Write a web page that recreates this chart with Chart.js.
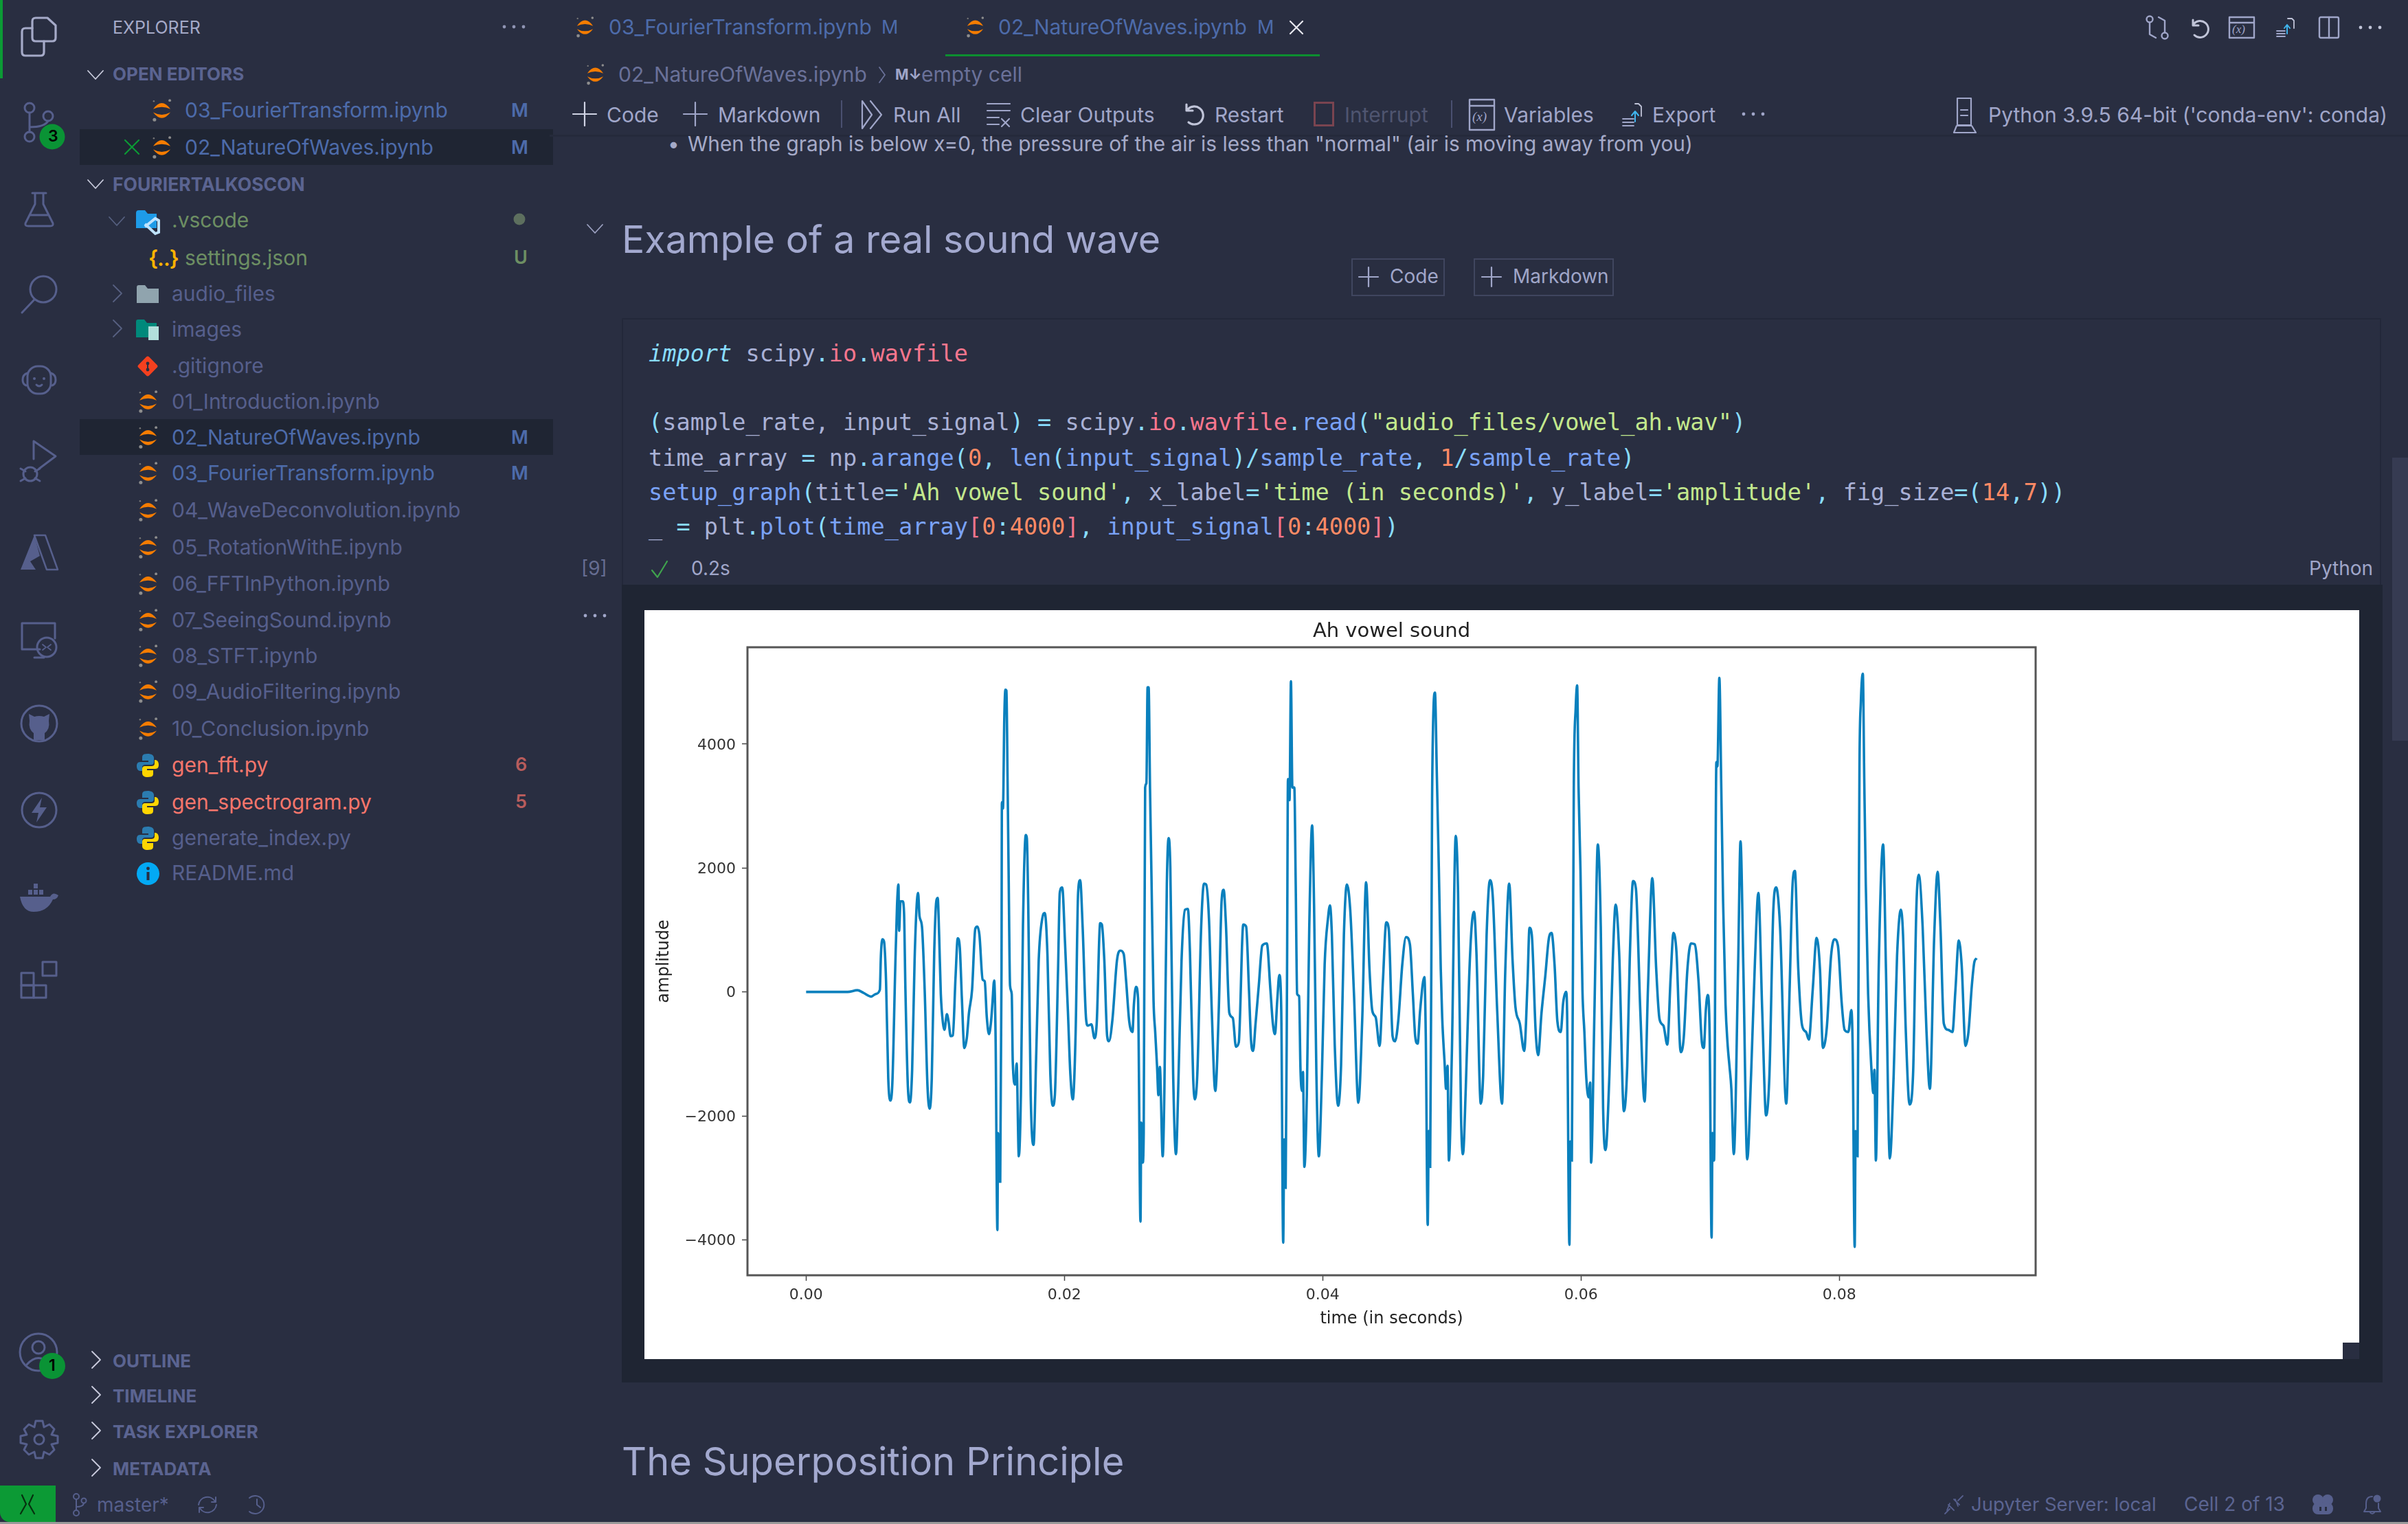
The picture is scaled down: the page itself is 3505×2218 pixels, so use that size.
<!DOCTYPE html>
<html>
<head>
<meta charset="utf-8">
<title>02_NatureOfWaves.ipynb</title>
<script src="https://cdn.jsdelivr.net/npm/chart.js@4/dist/chart.umd.min.js"></script>
<style>
html,body{margin:0;padding:0;background:#292e41;overflow:hidden;}
#app{position:relative;width:3505px;height:2218px;overflow:hidden;font-family:Inter,sans-serif;background:#292e41;}
#app div{position:absolute;white-space:pre;}
#app svg{position:absolute;overflow:visible;}
canvas{position:absolute;left:938px;top:888px;}
</style>
</head>
<body>
<div id="app"><div id="under"></div><canvas id="wave" width="2496" height="1090"></canvas></div>
<script>
// chart values
var xTickValues = [0, 0.02, 0.04, 0.06, 0.08];
var yTickValues = [-4000, -2000, 0, 2000, 4000];

var onsetTime = [0,0.00321,0.00397,0.00443,0.00505,0.00538,0.00571,0.00579,0.0059,0.00603,0.00619,0.00636,0.00652,0.00668,0.0069,0.00704,0.00715,0.0072,0.00731,0.00747,0.00758,0.00769];
var onsetAmp = [0,0,27,-14,-75,-34,34,578,850,816,170,-1394,-1754,-1462,374,1394,1734,986,1462,1462,1292,34];

var waveTimeA = [0.00788,0.00804,0.00821,0.0084,0.00856,0.00867,0.00878,0.00897,0.00918,0.0094,0.00956,0.00973,0.00992,0.01008,0.01019,0.0103,0.01043,0.0106,0.01071,0.0109,0.01103,0.01119,0.01136,0.01157,0.01174,0.0119,0.01206,0.01225,0.01244,0.01261,0.01285,0.0131,0.01326,0.01342,0.01367,0.01383,0.01399,0.01416,0.01432,0.01443,0.01456,0.01467,0.01481,0.01486,0.01494,0.01503,0.01513,0.01516,0.01524,0.01535,0.01543,0.01551,0.0156,0.01568,0.01579,0.01592,0.016,0.01619,0.0163,0.01647,0.01663,0.01679,0.01701,0.01709,0.0172,0.01739,0.01761,0.01782,0.01801,0.01829,0.01848,0.01869,0.01891,0.0191,0.01926,0.01951,0.01964,0.01983,0.02005,0.02027,0.02046,0.02065,0.02087,0.02106,0.02122,0.02141,0.02168,0.02182,0.02209,0.02233,0.0225,0.02277,0.0229,0.02309,0.02331,0.02345,0.02372,0.02407,0.02434,0.02459,0.02478,0.02502,0.02527,0.02538,0.02554,0.0257];
var waveAmpA = [-1530,-1782,-1258,510,1394,1598,1224,1054,34,-1530,-1884,-1394,646,1462,1516,918,-34,-510,-612,-360,-476,-714,-700,238,864,714,-102,-904,-748,-340,34,1020,1054,918,197,170,-408,-680,-476,-170,184,-714,-3842,-2278,-3060,-3060,374,3060,2958,4454,4876,4862,3400,1938,102,-34,-1122,-1496,-1156,-2652,-1666,1054,2530,2482,1394,-1666,-2468,-986,510,1190,1272,578,-1326,-1836,-1666,374,1598,1686,782,-306,-1326,-1734,-646,1598,1802,1054,-442,-544,-524,-748,-510,1108,1088,510,-714,-796,-442,510,666,612,170,-476,-646,-204,82,-102];

var waveTimeB = [0.02589,0.02595,0.02606,0.02614,0.02625,0.02635,0.02644,0.02652,0.02663,0.02674,0.0269,0.02703,0.02717,0.02728,0.02739,0.02761,0.02774,0.02793,0.02807,0.0282,0.02842,0.02864,0.0288,0.02907,0.02934,0.02956,0.02972,0.02997,0.0301,0.03029,0.03059,0.03081,0.03097,0.03119,0.03141,0.03168,0.03195,0.03217,0.03233,0.0325,0.03277,0.03304,0.03328,0.0335,0.03385,0.03407,0.03429,0.03445,0.03461,0.0348,0.03505,0.03532,0.03567,0.03595,0.03614,0.0363,0.03649];
var waveAmpB = [-3706,-2108,-2754,-2278,3298,3366,4916,4916,3264,1870,-136,-646,-1190,-1666,-1210,-2652,-1598,1734,2482,2006,-1326,-2618,-1666,510,1326,1340,646,-1394,-1734,-1326,1054,1748,1734,1190,-306,-1598,-306,1462,1646,1122,-340,-422,-884,-816,1088,1054,34,-782,-952,-510,102,748,782,34,-510,-680,-102];

var waveTimeC = [0.03664,0.03679,0.03694,0.03702,0.03713,0.03724,0.03731,0.03743,0.03754,0.03765,0.0378,0.03791,0.03802,0.03817,0.03828,0.0384,0.03847,0.03858,0.03877,0.03896,0.03918,0.03933,0.03951,0.0397,0.03993,0.04015,0.04041,0.04056,0.04071,0.04093,0.04119,0.04142,0.04164,0.04187,0.04213,0.04242,0.04276,0.04306,0.04336,0.04362,0.04384,0.0441,0.0444,0.04466,0.04492,0.04511,0.04541,0.0456,0.04586,0.04616,0.04645,0.04675,0.04698,0.04716,0.04735,0.04754,0.04787,0.04798];
var waveAmpC = [272,-306,-4046,-2380,-3162,374,3434,3094,5012,3298,3298,1734,-34,-68,-1258,-1598,-1292,-2822,-1666,1054,2686,1394,-1326,-2652,-1394,442,1190,1394,918,-850,-1836,-1190,918,1734,1326,-34,-1788,-442,1768,374,-306,-408,-870,170,1122,1020,-714,-796,-442,442,884,768,-34,-714,-836,-306,238,-714];

var waveTimeD = [0.04813,0.04821,0.04832,0.04847,0.04858,0.04869,0.04884,0.04899,0.04914,0.04925,0.04944,0.04955,0.04966,0.04977,0.05,0.0503,0.05048,0.05071,0.05086,0.05108,0.05134,0.05153,0.05172,0.0519,0.05224,0.05242,0.05269,0.05295,0.05317,0.05351,0.05388,0.05414,0.05444,0.0547,0.05492,0.05526,0.0556,0.05586,0.05601,0.05619,0.05649,0.05668,0.05694,0.05724,0.0575,0.05772,0.05795,0.05817,0.05843,0.05862,0.05884,0.05892];
var waveAmpD = [-3760,-2244,-2822,3128,4590,4828,3468,2006,374,-408,-1156,-1564,-1190,-2720,-986,2516,1598,-2006,-2618,-1530,238,1054,1292,646,-1802,-1360,918,1802,1530,-306,-1802,374,1748,510,-238,-510,-952,170,1034,918,-646,-1020,-340,272,850,952,442,-476,-646,-170,0,-306];

var waveTimeE = [0.0591,0.05918,0.05929,0.05944,0.05959,0.0597,0.05981,0.05996,0.06011,0.06026,0.06041,0.06059,0.06071,0.06078,0.06104,0.0613,0.06153,0.06171,0.0619,0.0622,0.06246,0.06268,0.06295,0.06332,0.06358,0.06377,0.06403,0.06425,0.06459,0.06492,0.06518,0.06552,0.06582,0.06608,0.06638,0.06668,0.06694,0.06716,0.06739,0.06772,0.06795,0.06824,0.06851,0.0688,0.0691,0.06936,0.06951,0.06966,0.06981,0.06996];
var waveAmpE = [-4080,-2414,-2720,3298,4590,4944,3298,1938,34,-646,-1394,-1700,-1462,-2754,-306,2380,1054,-1870,-2550,-1326,510,1408,646,-1924,-1190,510,1788,1666,-306,-1768,34,1836,374,-442,-544,-850,238,952,646,-972,-748,374,782,768,170,-816,-904,-306,-48,-714];

var waveTimeF = [0.07011,0.07018,0.0703,0.07048,0.07056,0.07071,0.07086,0.071,0.07119,0.07134,0.07149,0.07164,0.07183,0.07216,0.07235,0.07257,0.07287,0.07317,0.07347,0.07373,0.07403,0.07433,0.07459,0.07489,0.07511,0.07541,0.07589,0.07615,0.07638,0.07656,0.07682,0.07712,0.07742,0.07764,0.07794,0.07824,0.0785,0.07873,0.07903,0.07936,0.07962,0.07989,0.08018,0.08041,0.0807,0.08093,0.08104];
var waveAmpF = [-3964,-2278,-2720,3706,3638,5066,3298,1462,-204,-816,-1190,-1564,-2618,374,2428,374,-2700,-1326,510,1598,-306,-1992,-1326,1326,1686,1054,-1802,34,1734,1952,374,-544,-646,-768,34,870,374,-904,-578,578,850,748,-170,-612,-646,-292,-986];

var waveTimeG = [0.08119,0.08126,0.08141,0.08156,0.08167,0.08182,0.08193,0.08205,0.08223,0.08249,0.08264,0.08272,0.08283,0.08305,0.08339,0.08361,0.08391,0.08421,0.08447,0.08477,0.08492,0.08515,0.08544,0.08571,0.08597,0.08615,0.08645,0.08675,0.08701,0.08735,0.08761,0.08783,0.08809,0.08843,0.08876,0.08899,0.08925,0.08947,0.08977,0.09,0.09026,0.09045,0.09063];
var waveAmpG = [-4114,-2244,-2652,3638,4692,5134,3434,1734,-34,-1258,-1632,-1258,-2720,374,2380,374,-2686,-1326,578,1326,986,-646,-1816,-1326,1394,1890,1054,-646,-1564,918,1938,1054,-510,-612,-646,34,830,442,-870,-646,102,476,544];

var timeValues = onsetTime.concat(waveTimeA, waveTimeB, waveTimeC, waveTimeD, waveTimeE, waveTimeF, waveTimeG);
var ampValues = onsetAmp.concat(waveAmpA, waveAmpB, waveAmpC, waveAmpD, waveAmpE, waveAmpF, waveAmpG);

var points = [];
for(let i=0; i<timeValues.length; i++){
    points.push({x: timeValues[i], y: ampValues[i]});
}

// draws the matplotlib style box round the axes
var frameBox = {
    id: "frameBox",
    afterDraw: function(chart){
        let a = chart.chartArea;
        let c = chart.ctx;
        c.save();
        c.strokeStyle = "#555";
        c.lineWidth = 3;
        c.strokeRect(a.left, a.top, a.right-a.left, a.bottom-a.top);
        c.restore();
    }
};

new Chart(document.getElementById("wave"), {
    type: "line",
    data: {
        datasets: [{
            data: points,
            borderColor: "#0a80bd",
            borderWidth: 3.6,
            pointRadius: 0,
            cubicInterpolationMode: "monotone",
            fill: false
        }]
    },
    options: {
        responsive: false,
        animation: false,
        devicePixelRatio: 1,
        layout: { padding: { top: 0, right: 471, bottom: 0, left: 0 } },
        plugins: {
            legend: { display: false },
            tooltip: { enabled: false },
            title: {
                display: true,
                fullSize: false,
                text: "Ah vowel sound",
                color: "#222",
                font: { family: "DejaVu Sans", size: 29, weight: "normal", lineHeight: 1.2 },
                padding: { top: 14, bottom: 5.2 }
            }
        },
        scales: {
            x: {
                type: "linear",
                min: -0.00454,
                max: 0.0952,
                afterFit: function(s){ s.height = 122; },
                afterBuildTicks: function(s){ s.ticks = xTickValues.map(function(v){ return {value: v}; }); },
                grid: { drawOnChartArea: false, tickLength: 8, tickColor: "#444", tickWidth: 1.5 },
                border: { display: false },
                ticks: {
                    color: "#333",
                    font: { family: "DejaVu Sans", size: 22 },
                    padding: 8,
                    maxRotation: 0,
                    autoSkip: false,
                    callback: function(v){ return v.toFixed(2); }
                },
                title: {
                    display: true,
                    text: "time (in seconds)",
                    color: "#222",
                    font: { family: "DejaVu Sans", size: 24 },
                    padding: { top: 0, bottom: 44 }
                }
            },
            y: {
                type: "linear",
                min: -4572,
                max: 5561,
                afterFit: function(s){ s.width = 150; },
                afterBuildTicks: function(s){ s.ticks = yTickValues.map(function(v){ return {value: v}; }); },
                grid: { drawOnChartArea: false, tickLength: 8, tickColor: "#444", tickWidth: 1.5 },
                border: { display: false },
                ticks: {
                    color: "#333",
                    font: { family: "DejaVu Sans", size: 22 },
                    padding: 9,
                    labelOffset: 2,
                    autoSkip: false,
                    callback: function(v){ return String(v).replace("-", "\u2212"); }
                },
                title: {
                    display: true,
                    text: "amplitude",
                    color: "#222",
                    font: { family: "DejaVu Sans", size: 24 },
                    padding: { top: 14, bottom: 0 }
                }
            }
        }
    },
    plugins: [frameBox]
});

// ---------- the editor around the chart ----------
var app = document.getElementById("app");
var under = document.getElementById("under");
var GREY = "#565f8c", BLUE = "#4d6baa", GREEN = "#6d8f63", RED = "#f7766c", SOFT = "#a0a6c9", MONO = "'DejaVu Sans Mono',monospace";
var UI = 30;

function box(x, y, w, h, css){
    let d = document.createElement("div");
    d.style.cssText = "left:"+x+"px;top:"+y+"px;width:"+w+"px;height:"+h+"px;"+(css||"");
    under.appendChild(d);
    return d;
}
function put(x, y, s, color, size, css){
    let d = document.createElement("div");
    d.style.cssText = "left:"+x+"px;top:"+(y-1.5)+"px;transform:translateY(-50%);color:"+color+";font-size:"+size+"px;"+(css||"");
    d.textContent = s;
    app.appendChild(d);
    return d;
}
function icon(cx, cy, w, h, inner, vb){
    let s = document.createElementNS("http://www.w3.org/2000/svg", "svg");
    s.setAttribute("width", w);
    s.setAttribute("height", h);
    s.setAttribute("viewBox", vb || ("0 0 "+w+" "+h));
    s.style.left = (cx-w/2)+"px";
    s.style.top = (cy-h/2)+"px";
    s.innerHTML = inner;
    app.appendChild(s);
}
function line(c, w){ return 'fill="none" stroke="'+c+'" stroke-width="'+(w||2.5)+'" stroke-linecap="round" stroke-linejoin="round"'; }

function jupyter(cx, cy, w){
    icon(cx, cy, w||29, (w||29)*1.15,
        '<path d="M2 15 Q15 -3 28 15 Q15 9 2 15Z" fill="#f57c00"/><path d="M2 20 Q15 37 28 20 Q15 27 2 20Z" fill="#f57c00"/>'+
        '<circle cx="27" cy="2" r="2" fill="#8d8d8d"/><circle cx="4" cy="31" r="2.6" fill="#8d8d8d"/><circle cx="3" cy="3" r="1.3" fill="#777"/>', "0 0 30 34");
}
function pythonIcon(cx, cy){
    icon(cx, cy, 32, 36,
        '<path d="M16 1 C8 1 8 4 8 7 V11 H17 V13 H5 C1 13 0 16 0 19 C0 23 2 26 5 26 H8 V21 C8 18 10 17 13 17 H21 C24 17 25 15 25 13 V7 C25 3 21 1 16 1Z" fill="#2b7cb0"/>'+
        '<path d="M16 35 C24 35 24 32 24 29 V25 H15 V23 H27 C31 23 32 20 32 17 C32 13 30 10 27 10 H26 V15 C26 18 24 19 21 19 H12 C9 19 8 21 8 23 V29 C8 33 11 35 16 35Z" fill="#ffd600"/>', "0 0 32 36");
}
function chevronDown(cx, cy, c){ icon(cx, cy, 24, 14, '<path d="M1 1 L12 13 L23 1" '+line(c||"#c8cbdc",1.8)+'/>'); }
function chevronRight(cx, cy, c){ icon(cx, cy, 14, 26, '<path d="M1 1 L13 13 L1 25" '+line(c||"#8b90ad",1.8)+'/>'); }
function plus(cx, cy, c, s){ s=s||34; icon(cx, cy, s, s, '<path d="M'+(s/2)+' 0 V'+s+' M0 '+(s/2)+' H'+s+'" '+line(c||SOFT,2.2)+'/>'); }
function dots(cx, cy, c){ icon(cx, cy, 34, 6, '<circle cx="3" cy="3" r="2.4" fill="'+c+'"/><circle cx="17" cy="3" r="2.4" fill="'+c+'"/><circle cx="31" cy="3" r="2.4" fill="'+c+'"/>'); }

// panels and backgrounds, kept under the canvas
box(905, 851, 2563, 1161, "background:#1f2533;");
box(938, 888, 2496, 1090, "background:#fff;");
box(905, 463, 2561, 388, "box-sizing:border-box;border:2px solid #23283a;border-bottom:none;");
box(0, 0, 4, 114, "background:#0c9a35;");
box(116, 188, 689, 52, "background:#1f2533;");
box(116, 610, 689, 52, "background:#1f2533;");
box(1376, 79, 545, 3, "background:#0c8f30;");
box(800, 196, 2705, 3, "background:#252a3b;");
box(3482, 666, 23, 412, "background:#363b52;");
box(0, 2162, 81, 53, "background:#0c9a35;border-bottom-left-radius:14px;");
box(0, 2215, 3505, 3, "background:#9a9a9a;");

// the little notch in the output image, sits over the canvas corner
var notch = document.createElement("div");
notch.style.cssText = "left:3410px;top:1954px;width:24px;height:24px;background:#292e41;";
app.appendChild(notch);

// sidebar text
put(164, 41, "EXPLORER", "#a5aac8", 25);
dots(748, 39, "#8f94b3");
chevronDown(139, 109);
put(164, 108, "OPEN EDITORS", "#5b6491", 26, "font-weight:700;");
chevronDown(139, 268);
put(164, 269, "FOURIERTALKOSCON", "#5b6491", 26.5, "font-weight:700;");

var openNames = ["03_FourierTransform.ipynb", "02_NatureOfWaves.ipynb"];
var openRows = [161, 215];
for(let i=0; i<openNames.length; i++){
    jupyter(235, openRows[i]);
    put(269, openRows[i], openNames[i], BLUE, UI);
    put(744, openRows[i], "M", BLUE, 27, "font-weight:600;");
}
icon(192, 214, 22, 22, '<path d="M1 1 L21 21 M21 1 L1 21" '+line("#0c9a35",2.2)+'/>');

var treeNames = ["01_Introduction.ipynb","02_NatureOfWaves.ipynb","03_FourierTransform.ipynb","04_WaveDeconvolution.ipynb","05_RotationWithE.ipynb","06_FFTInPython.ipynb","07_SeeingSound.ipynb","08_STFT.ipynb","09_AudioFiltering.ipynb","10_Conclusion.ipynb"];
var treeRows = [585,637,689,743,797,850,903,955,1007,1061];
var treeColors = [GREY,BLUE,BLUE,GREY,GREY,GREY,GREY,GREY,GREY,GREY];
for(let i=0; i<treeNames.length; i++){
    jupyter(215, treeRows[i]);
    put(250, treeRows[i], treeNames[i], treeColors[i], UI);
}
put(744, 637, "M", BLUE, 27, "font-weight:600;");
put(744, 689, "M", BLUE, 27, "font-weight:600;");

chevronDown(170, 322, "#566080");
icon(215, 322, 34, 36, '<path d="M0 6 Q0 2 4 2 H13 L17 7 H30 V28 H0Z" fill="#1e9be8"/><path d="M13 26 L28 14 L33 17 V34 L28 36 L13 22" fill="none" stroke="#bfe3ff" stroke-width="4"/>');
put(250, 321, ".vscode", GREEN, UI);
icon(756, 319, 18, 18, '<circle cx="9" cy="9" r="8.5" fill="#5d6f5e"/>');
put(216, 376, "{..}", "#ffb300", 31, "font-weight:600;letter-spacing:-1px;");
put(269, 376, "settings.json", GREEN, UI);
put(748, 375, "U", GREEN, 27, "font-weight:600;");
chevronRight(171, 427, "#566080");
icon(215, 428, 32, 26, '<path d="M0 3 Q0 0 3 0 H12 L16 5 H32 V26 H0Z" fill="#90a4ae"/>');
put(250, 428, "audio_files", GREY, UI);
chevronRight(171, 478, "#566080");
icon(215, 480, 34, 30, '<path d="M0 3 Q0 0 3 0 H12 L16 5 H30 V26 H0Z" fill="#00897b"/><rect x="18" y="10" width="15" height="20" fill="#b2dfdb"/>');
put(250, 480, "images", GREY, UI);
icon(215, 533, 32, 32, '<rect x="5" y="5" width="22" height="22" rx="3" transform="rotate(45 16 16)" fill="#f4401f"/><circle cx="16" cy="12" r="2.4" fill="#292e41"/><circle cx="16" cy="21" r="2.4" fill="#292e41"/><path d="M16 12 V21" '+line("#292e41",2)+'/>');
put(250, 533, ".gitignore", GREY, UI);

var pyNames = ["gen_fft.py","gen_spectrogram.py","generate_index.py"];
var pyRows = [1114,1168,1220];
var pyColors = [RED,RED,GREY];
for(let i=0; i<pyNames.length; i++){
    pythonIcon(215, pyRows[i]);
    put(250, pyRows[i], pyNames[i], pyColors[i], UI);
}
put(750, 1113, "6", "#b85c5c", 27, "font-weight:600;");
put(750, 1167, "5", "#b85c5c", 27, "font-weight:600;");
icon(215, 1271, 33, 33, '<circle cx="16.5" cy="16.5" r="16.5" fill="#03a9f4"/><rect x="14.5" y="14" width="4" height="12" fill="#292e41"/><circle cx="16.5" cy="9" r="2.4" fill="#292e41"/>');
put(250, 1271, "README.md", GREY, UI);

var footNames = ["OUTLINE","TIMELINE","TASK EXPLORER","METADATA"];
var footRows = [1981,2032,2084,2138];
for(let i=0; i<footNames.length; i++){
    chevronRight(140, footRows[i]-2, "#c8cbdc");
    put(164, footRows[i], footNames[i], "#5b6491", 26, "font-weight:700;");
}

// activity bar
var A = line(GREY, 3);
icon(57, 54, 52, 58, '<path d="M16 6 Q16 1 21 1 H38 L50 12 V30 Q50 35 45 35 H21 Q16 35 16 30Z" '+line("#a5aac8",3.2)+'/><path d="M16 16 H6 Q1 16 1 21 V51 Q1 56 6 56 H28 Q33 56 33 51 V35" '+line("#a5aac8",3.2)+'/>');
icon(57, 178, 44, 58, '<circle cx="8" cy="8" r="7" '+A+'/><circle cx="8" cy="50" r="7" '+A+'/><circle cx="35" cy="20" r="7" '+A+'/><path d="M8 15 V43 M8 36 Q30 36 35 27" '+A+'/>');
icon(76, 199, 38, 38, '<circle cx="19" cy="19" r="18.5" fill="#0a9335"/>');
put(70, 199, "3", "#000", 23, "font-weight:600;");
icon(57, 305, 44, 52, '<path d="M12 2 H32 M16 2 V18 L2 46 Q1 50 6 50 H38 Q43 50 42 46 L28 18 V2 M8 34 H36" '+A+'/>');
icon(57, 428, 54, 56, '<circle cx="33" cy="21" r="19" '+A+'/><path d="M20 36 L2 55" '+A+'/>');
icon(57, 553, 50, 44, '<rect x="8" y="2" width="34" height="40" rx="15" '+A+'/><path d="M8 12 Q1 14 1 22 Q1 28 6 30 M42 12 Q49 14 49 22 Q49 28 44 30" '+A+'/><circle cx="18" cy="20" r="2" fill="'+GREY+'"/><circle cx="32" cy="20" r="2" fill="'+GREY+'"/><path d="M21 29 Q25 33 29 29" '+A+'/>');
icon(57, 672, 56, 64, '<path d="M20 2 L52 24 L28 42 M20 2 V28" '+A+'/><circle cx="15" cy="50" r="10" '+A+'/><path d="M1 42 L8 46 M1 60 L8 56 M29 42 L22 46 M29 60 L22 56" '+A+'/>');
icon(57, 804, 54, 50, '<path d="M20 0 H36 L54 50 H38Z" '+line(GREY,2.5)+'/><path d="M20 0 L0 50 H22 L14 38 L28 30Z" fill="'+GREY+'"/>');
icon(57, 931, 54, 52, '<path d="M50 24 V2 H2 V40 H28 M20 52 H34" '+A+'/><circle cx="38" cy="37" r="14" '+A+'/><path d="M32 33 L37 37 L32 41 M44 33 L39 37 L44 41" '+line(GREY,1.8)+'/>');
icon(57, 1053, 56, 56, '<circle cx="28" cy="28" r="26" '+A+'/><path d="M20 52 V42 Q12 36 14 24 L13 14 L21 18 Q28 16 35 18 L43 14 L42 24 Q44 36 36 42 V52Z" fill="'+GREY+'"/>');
icon(57, 1179, 54, 56, '<circle cx="27" cy="28" r="25" '+A+'/><path d="M31 10 L16 32 H26 L23 46 L38 24 H28Z" fill="'+GREY+'"/>');
icon(57, 1306, 56, 42, '<path d="M0 20 H44 Q48 12 56 18 Q54 24 48 24 Q40 42 20 42 Q4 42 0 20Z" fill="'+GREY+'"/><rect x="12" y="10" width="6" height="7" fill="'+GREY+'"/><rect x="20" y="10" width="6" height="7" fill="'+GREY+'"/><rect x="28" y="10" width="6" height="7" fill="'+GREY+'"/><rect x="20" y="1" width="6" height="7" fill="'+GREY+'"/>');
icon(57, 1426, 54, 54, '<rect x="1" y="17" width="18" height="18" '+A+'/><rect x="1" y="35" width="18" height="18" '+A+'/><rect x="19" y="35" width="18" height="18" '+A+'/><rect x="32" y="1" width="20" height="20" '+A+'/>');
icon(57, 1968, 60, 58, '<circle cx="29" cy="29" r="27" '+A+'/><circle cx="29" cy="22" r="9" '+A+'/><path d="M12 47 Q29 28 46 47" '+A+'/>');
icon(76, 1988, 38, 40, '<circle cx="19" cy="20" r="19" fill="#0a9335"/>');
put(71, 1988, "1", "#000", 23, "font-weight:600;");
icon(57, 2095, 58, 58, '<circle cx="29" cy="29" r="7" '+A+'/><path d="M24 2 H34 L36 11 L44 7 L51 14 L47 22 L56 24 V34 L47 36 L51 44 L44 51 L36 47 L34 56 H24 L22 47 L14 51 L7 44 L11 36 L2 34 V24 L11 22 L7 14 L14 7 L22 11Z" '+A+'/>');

// tabs
jupyter(851, 40, 27);
put(886, 40, "03_FourierTransform.ipynb", BLUE, UI);
put(1283, 40, "M", BLUE, 27);
jupyter(1419, 40, 27);
put(1453, 40, "02_NatureOfWaves.ipynb", BLUE, UI);
put(1830, 40, "M", BLUE, 27);
icon(1887, 40, 20, 20, '<path d="M1 1 L19 19 M19 1 L1 19" '+line("#e8e8f0",2.2)+'/>');
var topIcons = line("#a0a6c9", 2.4);
icon(3140, 40, 34, 36, '<circle cx="6" cy="6" r="4.5" '+topIcons+'/><circle cx="28" cy="30" r="4.5" '+topIcons+'/><path d="M6 11 V28 L15 33 M28 25 V8 L19 3" '+topIcons+'/>');
icon(3201, 40, 30, 30, '<path d="M6 4 V12 H14 M7 10 A12 12 0 1 1 8 26" '+line("#c0c4d8",3)+'/>');
icon(3263, 40, 38, 32, '<rect x="1" y="1" width="36" height="30" '+topIcons+'/><path d="M1 9 H37" '+topIcons+'/>');
put(3249, 44, "(x)", "#a0a6c9", 17, "font-style:italic;font-family:'Liberation Serif';");
icon(3325, 40, 30, 30, '<path d="M4 20 H16 M4 24 H16 M4 28 H16" '+line("#a0a6c9",1.8)+'/><path d="M20 2 H26 L29 5 V16" '+line("#c0c4d8",1.8)+'/><path d="M19 24 V12 M15 16 L19 11 L23 16" '+line("#3fb5ee",2)+'/>');
icon(3390, 40, 30, 32, '<rect x="1" y="1" width="28" height="30" rx="2" '+topIcons+'/><path d="M15 1 V31" '+topIcons+'/>');
dots(3450, 40, "#c0c4d8");

// breadcrumb and toolbar
jupyter(866, 109, 27);
put(900, 109, "02_NatureOfWaves.ipynb", "#6a7199", UI);
icon(1284, 109, 10, 24, '<path d="M1 1 L9 12 L1 23" '+line("#6a7199",1.8)+'/>');
put(1303, 109, "M\u2193", "#a0a6c9", 21, "font-weight:700;");
put(1341, 109, "empty cell", "#6a7199", UI);

var barNames = ["Code","Markdown","Run All","Clear Outputs","Restart","Interrupt","Variables","Export"];
var barLeft = [883,1045,1300,1485,1768,1957,2189,2405];
var barColor = [SOFT,SOFT,SOFT,SOFT,SOFT,"#4f5570",SOFT,SOFT];
for(let i=0; i<barNames.length; i++){
    put(barLeft[i], 168, barNames[i], barColor[i], UI);
}
plus(851, 166, "#d0d3e4");
plus(1012, 166);
box(1224, 146, 2, 40, "background:#4a5070;");
box(2112, 146, 2, 40, "background:#4a5070;");
icon(1269, 167, 32, 44, '<path d="M2 2 V42 L16 22Z M14 2 L30 22 L14 42" '+line(SOFT,2.2)+'/>');
icon(1454, 167, 36, 36, '<path d="M1 2 H34 M1 12 H34 M1 22 H18 M1 32 H18 M22 24 L33 35 M33 24 L22 35" '+line(SOFT,2.2)+'/>');
icon(1737, 166, 32, 34, '<path d="M6 3 V12 H15 M7 11 A13 13 0 1 1 9 29" '+line("#c0c4d8",3.2)+'/>');
icon(1927, 166, 30, 36, '<rect x="1.5" y="1.5" width="27" height="33" fill="none" stroke="#7a4450" stroke-width="3"/>');
icon(2157, 167, 38, 46, '<rect x="1" y="1" width="36" height="44" '+topIcons+'/><path d="M1 10 H37" '+topIcons+'/>');
put(2143, 171, "(x)", "#a0a6c9", 19, "font-style:italic;font-family:'Liberation Serif';");
icon(2375, 167, 30, 36, '<path d="M2 24 H18 M2 29 H18 M2 34 H18" '+line(SOFT,1.8)+'/><path d="M20 2 H25 L29 6 V20" '+line("#c0c4d8",1.8)+'/><path d="M20 28 V14 M15 19 L20 13 L25 19" '+line("#3fb5ee",2)+'/>');
dots(2552, 166, "#a0a6c9");
icon(2860, 168, 34, 52, '<path d="M6 1 H26 V40 H6Z M11 18 H21 M11 26 H21 M1 51 L5 41 H27 L33 51Z" '+line(SOFT,2.2)+'/>');
put(2894, 168, "Python 3.9.5 64-bit ('conda-env': conda)", SOFT, UI);

// notebook text
put(972, 210, "\u2022", "#a5aac8", 30);
put(1001, 210, "When the graph is below x=0, the pressure of the air is less than \"normal\" (air is moving away from you)", "#a5aac8", 29.8);
chevronDown(866, 333, "#9ba0c0");
put(905, 348, "Example of a real sound wave", "#a3a9cf", 55.5);
box(1967, 376, 136, 55, "box-sizing:border-box;border:2px solid #40465f;");
box(2145, 376, 204, 55, "box-sizing:border-box;border:2px solid #40465f;");
plus(1992, 403, SOFT, 28);
put(2023, 403, "Code", SOFT, 28);
plus(2171, 403, SOFT, 28);
put(2202, 403, "Markdown", SOFT, 28);

// code cell
var CODE = "#a9b1d6", CY = "#89ddff", RD = "#f7768e", BL = "#7aa2f7", ST = "#c3e88d", OR = "#ff8a65";
var codeRows = [514, 614, 666, 716, 766];
var codeTokens = [
    [["import",CY,1],[" scipy",CODE],[".",CY],["io",RD],[".",CY],["wavfile",RD]],
    [["(",CY],["sample_rate, input_signal",CODE],[")",CY],[" ",CODE],["=",CY],[" scipy",CODE],[".",CY],["io",RD],[".",CY],["wavfile",RD],[".",CY],["read",BL],["(",CY],["\"audio_files/vowel_ah.wav\"",ST],[")",CY]],
    [["time_array ",CODE],["=",CY],[" np",CODE],[".",CY],["arange",BL],["(",CY],["0",OR],[", ",CY],["len",BL],["(",CY],["input_signal",BL],[")/",CY],["sample_rate",BL],[", ",CY],["1",OR],["/",CY],["sample_rate",BL],[")",CY]],
    [["setup_graph",BL],["(",CY],["title",CODE],["=",CY],["'Ah vowel sound'",ST],[", ",CY],["x_label",CODE],["=",CY],["'time (in seconds)'",ST],[", ",CY],["y_label",CODE],["=",CY],["'amplitude'",ST],[", ",CY],["fig_size",CODE],["=",CY],["(",CY],["14",OR],[",",CY],["7",OR],["))",CY]],
    [["_ ",CODE],["=",CY],[" plt",CODE],[".",CY],["plot",BL],["(",CY],["time_array",BL],["[",RD],["0",OR],[":",CY],["4000",OR],["]",RD],[", ",CY],["input_signal",BL],["[",RD],["0",OR],[":",CY],["4000",OR],["]",RD],[")",CY]]
];
for(let i=0; i<codeTokens.length; i++){
    let row = put(944, codeRows[i]+1.5, "", CODE, 33.6, "font-family:"+MONO+";");
    codeTokens[i].forEach(function(t){
        let sp = document.createElement("span");
        sp.textContent = t[0];
        sp.style.color = t[1];
        if(t[2]) sp.style.fontStyle = "italic";
        row.appendChild(sp);
    });
}
put(846, 828, "[9]", "#666d92", 28);
icon(960, 828, 26, 26, '<path d="M2 15 L10 25 L24 2" '+line("#3fa34d",2.2)+'/>');
put(1006, 828, "0.2s", "#a0a6c9", 28);
put(3361, 828, "Python", "#a0a6c9", 28);
dots(866, 896, "#a0a6c9");

put(905, 2128, "The Superposition Principle", "#a3a9cf", 56);

// status bar
icon(40, 2190, 28, 30, '<path d="M6 1 L12 14 L4 28 M22 1 L16 14 L24 28" '+line("#07300f",2.2)+'/>');
icon(116, 2190, 20, 34, '<circle cx="5" cy="5" r="4" '+line(GREY,2)+'/><circle cx="5" cy="29" r="4" '+line(GREY,2)+'/><circle cx="16" cy="11" r="3.5" '+line(GREY,2)+'/><path d="M5 9 V25 M5 20 Q15 20 16 15" '+line(GREY,2)+'/>');
put(141, 2191, "master*", GREY, 28);
icon(302, 2190, 32, 28, '<path d="M3 14 A13 13 0 0 1 27 9 M29 14 A13 13 0 0 1 5 19 M22 10 L28 10 L28 3 M10 18 L4 18 L4 25" '+line(GREY,2)+'/>');
icon(374, 2190, 32, 28, '<path d="M5 4 A13 13 0 1 1 5 24 M16 6 V14 L21 18" '+line(GREY,2)+'/>');
icon(2844, 2190, 28, 28, '<path d="M1 27 L8 20 M27 1 L20 8 M6 14 L14 22 M14 6 L22 14 M8 12 L4 22 M20 16 L16 6" '+line(GREY,1.8)+'/>');
put(2869, 2190, "Jupyter Server: local", "#5b6491", 27.5);
put(3179, 2190, "Cell 2 of 13", "#5b6491", 28);
icon(3381, 2190, 34, 30, '<circle cx="10" cy="8" r="8" fill="'+GREY+'"/><circle cx="24" cy="8" r="8" fill="'+GREY+'"/><rect x="2" y="12" width="30" height="17" rx="8" fill="'+GREY+'"/><rect x="12" y="18" width="3" height="6" fill="#292e41"/><rect x="20" y="18" width="3" height="6" fill="#292e41"/>');
icon(3453, 2190, 26, 30, '<path d="M13 3 Q4 3 4 13 V20 L1 25 H25 L22 20 V13 M9 25 Q13 31 17 25" '+line(GREY,2)+'/><circle cx="20" cy="6" r="5.5" fill="'+GREY+'"/>');
</script>
</body>
</html>
